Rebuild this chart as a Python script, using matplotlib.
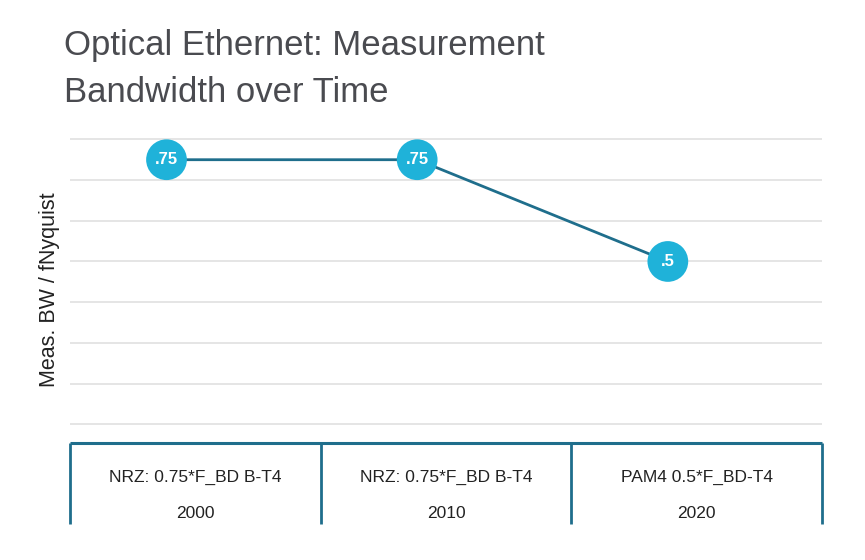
import matplotlib
matplotlib.use("Agg")
import matplotlib.pyplot as plt

# ---- data ----
categories = ["NRZ: 0.75*F_BD B-T4", "NRZ: 0.75*F_BD B-T4", "PAM4 0.5*F_BD-T4"]
years = ["2000", "2010", "2020"]
values = [0.75, 0.75, 0.5]
point_labels = [".75", ".75", ".5"]
grid_levels = [0.1, 0.2, 0.3, 0.4, 0.5, 0.6, 0.7, 0.8]

W, H = 865, 560
fig = plt.figure(figsize=(W / 100, H / 100), dpi=100)
plt.rcParams['font.family'] = ['Liberation Sans', 'DejaVu Sans']

def rect(x0, y0, x1, y1):
    return [x0 / W, 1 - y1 / H, (x1 - x0) / W, (y1 - y0) / H]

line_col = "#1f6e8c"
dot_col = "#1fb2d9"

ax = fig.add_axes(rect(70, 130, 822, 443))
ax.set_xlim(0, 3)
ax.set_ylim(0.054, 0.823)
for g in grid_levels:
    ax.axhline(g, color="#e3e3e3", lw=1.3, zorder=0)
xs = [i + 0.385 for i in range(len(values))]
ax.plot(xs, values, color=line_col, lw=2, zorder=2)
ax.scatter(xs, values, s=860, color=dot_col, zorder=3, edgecolors="none")
for x, v, t in zip(xs, values, point_labels):
    ax.text(x, v, t, color="white", ha="center", va="center", fontsize=12,
            fontweight="bold", zorder=4)
for s in ax.spines.values():
    s.set_visible(False)
ax.set_xticks([])
ax.set_yticks([])

fig.text(50 / W, 1 - 290 / H, "Meas. BW / fNyquist", rotation=90, ha="center",
         va="center", fontsize=15.5, color="#222222")

fig.text(64 / W, 1 - 46 / H, "Optical Ethernet: Measurement", ha="left", va="center",
         fontsize=25, color="#4a4b50")
fig.text(64 / W, 1 - 92 / H, "Bandwidth over Time", ha="left", va="center",
         fontsize=25, color="#4a4b50")

# ---- bottom category box ----
tb = fig.add_axes(rect(70, 443, 822, 524))
tb.set_xlim(0, 3)
tb.set_ylim(0, 1)
tb.axis("off")
tb.plot([0, 3], [1, 1], color=line_col, lw=2.2, clip_on=False, solid_capstyle="butt")
for i in range(len(categories) + 1):
    tb.plot([i, i], [0, 1], color=line_col, lw=2, clip_on=False, solid_capstyle="butt")
for i, (c, yr) in enumerate(zip(categories, years)):
    tb.text(i + 0.5, 1 - 34 / 81, c, ha="center", va="center", fontsize=12.5, color="#222222")
    tb.text(i + 0.5, 1 - 70 / 81, yr, ha="center", va="center", fontsize=12.5, color="#222222")

fig.savefig("out.png", dpi=100, facecolor="white")
